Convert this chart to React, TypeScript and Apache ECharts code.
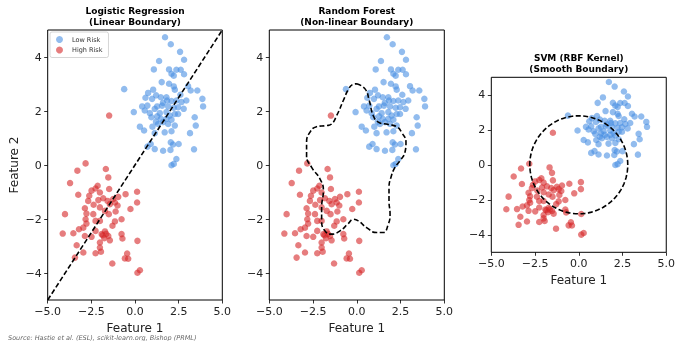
import React, { useEffect, useRef } from 'react';
import * as echarts from 'echarts';

const FONT = 'DejaVu Sans';

const lowRisk: [number, number][] = [
  [1.72, 4.73], [2.05, 4.47], [2.58, 4.19], [2.81, 3.9], [1.38, 3.85], [1.08, 3.54], [1.95, 3.54],
  [2.37, 3.53], [2.62, 3.53], [2.09, 3.38], [2.22, 3.31], [2.81, 3.36], [1.53, 3.07], [1.95, 3.01],
  [2.22, 2.91], [3.04, 2.92], [3.19, 2.76], [3.57, 2.76], [2.28, 2.79], [-0.62, 2.81], [1.04, 2.79],
  [0.75, 2.67], [1.21, 2.58], [1.48, 2.51], [1.8, 2.51], [0.6, 2.49], [0.98, 2.45], [3.86, 2.45],
  [3.9, 2.17], [1.84, 2.39], [2.09, 2.37], [2.37, 2.39], [2.66, 2.33], [2.94, 2.39], [0.41, 2.17],
  [0.71, 2.2], [1.27, 2.17], [1.55, 2.2], [1.13, 2.08], [1.9, 2.17], [2.22, 2.12], [2.47, 2.14],
  [2.79, 2.08], [-0.07, 1.96], [0.56, 2.02], [0.85, 1.92], [1.42, 1.92], [1.8, 1.96], [1.99, 1.83],
  [2.28, 1.89], [2.47, 1.89], [0.94, 1.77], [1.27, 1.8], [1.48, 1.71], [1.8, 1.71], [2.09, 1.68],
  [3.42, 1.77], [0.28, 1.42], [1.0, 1.42], [1.32, 1.52], [1.61, 1.59], [1.9, 1.52], [2.28, 1.46],
  [3.48, 1.46], [0.52, 1.28], [1.13, 1.18], [1.7, 1.21], [2.09, 1.25], [3.15, 1.18], [0.9, 0.78],
  [0.71, 0.68], [2.05, 0.84], [2.18, 0.76], [2.5, 0.78], [1.13, 0.59], [1.61, 0.53], [2.03, 0.56],
  [3.38, 0.58], [2.37, 0.22], [2.22, 0.04], [2.09, -0.01], [1.6, 2.3], [2.6, 2.6], [1.2, 1.6],
];

const highRisk: [number, number][] = [
  [-1.48, 1.83], [-2.83, 0.06], [-3.3, -0.21], [-1.67, -0.15], [-3.72, -0.67], [-1.53, -0.46],
  [-2.14, -0.77], [-2.49, -0.95], [-2.26, -0.87], [-3.25, -1.1], [-2.62, -1.14], [-2.01, -1.02],
  [-1.48, -0.89], [-0.54, -1.08], [0.12, -0.99], [-0.96, -1.18], [-2.68, -1.33], [-1.82, -1.23],
  [-1.57, -1.33], [-1.25, -1.26], [-1.15, -1.39], [-1.44, -1.45], [0.12, -1.39], [-2.37, -1.47],
  [-2.87, -1.6], [-2.01, -1.57], [-1.72, -1.7], [-1.11, -1.72], [-0.26, -1.63], [-4.01, -1.82],
  [-2.78, -1.8], [-2.39, -1.82], [-1.5, -1.82], [-0.77, -2.01], [-2.83, -2.01], [-2.26, -2.07],
  [-2.01, -2.07], [-1.15, -2.09], [-1.29, -2.25], [-2.78, -2.17], [-2.96, -2.32], [-3.21, -2.38],
  [-2.26, -2.44], [-1.72, -2.46], [-4.14, -2.54], [-3.53, -2.53], [-2.87, -2.63], [-2.49, -2.66],
  [-1.91, -2.56], [-1.76, -2.71], [-1.53, -2.63], [-0.77, -2.56], [-0.72, -2.72], [-1.44, -2.79],
  [-2.01, -2.87], [0.14, -2.81], [-3.34, -2.97], [-2.96, -3.24], [-2.26, -3.27], [-2.01, -3.06],
  [-1.95, -3.21], [-0.45, -3.28], [-3.44, -3.43], [-0.58, -3.46], [-0.39, -3.47], [-1.3, -3.65],
  [0.28, -3.9], [0.14, -3.99], [-1.85, -2.6], [-1.65, -2.55], [-1.0, -1.5], [-2.1, -1.3],
];

const linearBoundary: [number, number][] = [[-5, -5], [5, 5]];

const forestBoundary: [number, number][] = [
  [-0.01, 3.01], [0.47, 2.82], [0.71, 2.39], [0.94, 1.83], [1.23, 1.59], [1.8, 1.5], [2.28, 1.42],
  [2.56, 1.21], [2.81, 0.84], [2.75, 0.47], [2.47, 0.16], [2.18, -0.09], [1.95, -0.46], [1.84, -0.83],
  [1.84, -1.33], [1.9, -1.82], [1.8, -2.19], [1.51, -2.5], [1.13, -2.5], [0.56, -2.32], [0.09, -2.07],
  [-0.2, -2.01], [-0.49, -2.17], [-0.96, -2.44], [-1.44, -2.56], [-1.82, -2.44], [-2.01, -2.07],
  [-2.01, -1.57], [-1.91, -0.95], [-2.1, -0.52], [-2.58, -0.09], [-2.87, 0.35], [-2.87, 0.84],
  [-2.68, 1.21], [-2.3, 1.42], [-1.72, 1.46], [-1.44, 1.52], [-1.15, 1.83], [-0.77, 2.39],
  [-0.49, 2.79], [-0.24, 2.98], [-0.01, 3.01],
];

const svmCenter: [number, number] = [0, 0];
const svmRadius = 2.8;
const svmBoundary: [number, number][] = [];
for (let i = 0; i <= 96; i++) {
  const a = (i / 96) * Math.PI * 2;
  svmBoundary.push([svmCenter[0] + svmRadius * Math.cos(a), svmCenter[1] + svmRadius * Math.sin(a)]);
}

const xTicks = [-5, -2.5, 0, 2.5, 5];
const yTicks = [-4, -2, 0, 2, 4];

const panels = [
  { title: 'Logistic Regression', sub: '(Linear Boundary)', left: 47.7, top: 30, width: 174.6, height: 270, boundary: linearBoundary, smooth: false, yName: 'Feature 2' },
  { title: 'Random Forest', sub: '(Non-linear Boundary)', left: 269.3, top: 30, width: 175, height: 270, boundary: forestBoundary, smooth: 0.5, yName: '' },
  { title: 'SVM (RBF Kernel)', sub: '(Smooth Boundary)', left: 491.3, top: 77.3, width: 175, height: 175, boundary: svmBoundary, smooth: false, yName: '' },
];

const fmt = (v: number) => (v < 0 ? '\u2212' : '') + Math.abs(v).toFixed(1);
const fmtInt = (v: number) => (v < 0 ? '\u2212' : '') + Math.abs(v).toFixed(0);

export default function App() {
  const ref = useRef<HTMLDivElement>(null);
  useEffect(() => {
    if (!ref.current) return;
    const chart = echarts.init(ref.current, undefined, { renderer: 'svg' });
    const grid = panels.map((p) => ({
      left: p.left, top: p.top, width: p.width, height: p.height,
      show: true, borderColor: '#000', borderWidth: 1, backgroundColor: 'transparent', containLabel: false,
    }));
    const xAxis = panels.map((p, i) => ({
      type: 'value', gridIndex: i, min: -5, max: 5, position: 'bottom',
      name: 'Feature 1', nameLocation: 'middle', nameGap: 19,
      nameTextStyle: { fontFamily: FONT, fontSize: 12, color: '#222' },
      axisLine: { show: false, onZero: false },
      axisTick: { show: true, inside: false, length: 3.5, lineStyle: { color: '#000', width: 0.8 }, customValues: xTicks },
      axisLabel: { fontFamily: FONT, fontSize: 11, color: '#222', margin: 6, formatter: fmt, customValues: xTicks, showMinLabel: true, showMaxLabel: true },
      splitLine: { show: false },
    }));
    const yAxis = panels.map((p, i) => ({
      type: 'value', gridIndex: i, min: -5, max: 5, position: 'left',
      name: p.yName, nameLocation: 'middle', nameGap: 28,
      nameTextStyle: { fontFamily: FONT, fontSize: 12, color: '#222' },
      axisLine: { show: false, onZero: false },
      axisTick: { show: true, inside: false, length: 3.5, lineStyle: { color: '#000', width: 0.8 }, customValues: yTicks },
      axisLabel: { fontFamily: FONT, fontSize: 11, color: '#222', margin: 6, formatter: fmtInt, customValues: yTicks },
      splitLine: { show: false },
    }));
    const series: any[] = [];
    panels.forEach((p, i) => {
      series.push({
        type: 'scatter', name: 'Low Risk', xAxisIndex: i, yAxisIndex: i, data: lowRisk,
        symbolSize: 6.5, itemStyle: { color: '#4A90E2', opacity: 0.6 }, z: 2,
      });
      series.push({
        type: 'scatter', name: 'High Risk', xAxisIndex: i, yAxisIndex: i, data: highRisk,
        symbolSize: 6.5, itemStyle: { color: '#D62728', opacity: 0.6 }, z: 2,
      });
      series.push({
        type: 'line', name: 'boundary' + i, xAxisIndex: i, yAxisIndex: i, data: p.boundary,
        smooth: p.smooth, showSymbol: false, symbol: 'none', clip: true,
        lineStyle: { color: '#000', width: 1.6, type: [5, 2.5] }, z: 3, silent: true,
      });
    });
    const graphic: any[] = [];
    panels.forEach((p) => {
      const cx = p.left + p.width / 2;
      const y1 = p.top - 19.3;
      graphic.push({ type: 'text', x: cx, y: y1, style: { text: p.title, textAlign: 'center', textVerticalAlign: 'middle', fontFamily: FONT, fontSize: 9, fontWeight: 'bold', fill: '#000' } });
      graphic.push({ type: 'text', x: cx, y: y1 + 11, style: { text: p.sub, textAlign: 'center', textVerticalAlign: 'middle', fontFamily: FONT, fontSize: 9, fontWeight: 'bold', fill: '#000' } });
    });
    graphic.push({ type: 'text', x: 8, y: 337.5, style: { text: 'Source: Hastie et al. (ESL), scikit-learn.org, Bishop (PRML)', textAlign: 'left', textVerticalAlign: 'middle', fontFamily: FONT, fontSize: 6.5, fontStyle: 'italic', fill: '#666' } });

    chart.setOption({
      animation: false,
      grid, xAxis, yAxis, series, graphic,
      legend: {
        data: ['Low Risk', 'High Risk'], orient: 'vertical', left: 50, top: 32,
        padding: [4, 6, 4, 6], itemGap: 3.5, itemWidth: 7, itemHeight: 7, icon: 'circle',
        borderColor: '#ccc', borderWidth: 0.8, borderRadius: 2, backgroundColor: 'rgba(255,255,255,0.85)',
        textStyle: { fontFamily: FONT, fontSize: 6.5, color: '#333', padding: [0, 0, 0, 4] },
        selectedMode: false,
      },
    });
    return () => chart.dispose();
  }, []);
  return <div ref={ref} style={{ position: 'fixed', left: 0, top: 0, width: 678, height: 341 }} />;
}
